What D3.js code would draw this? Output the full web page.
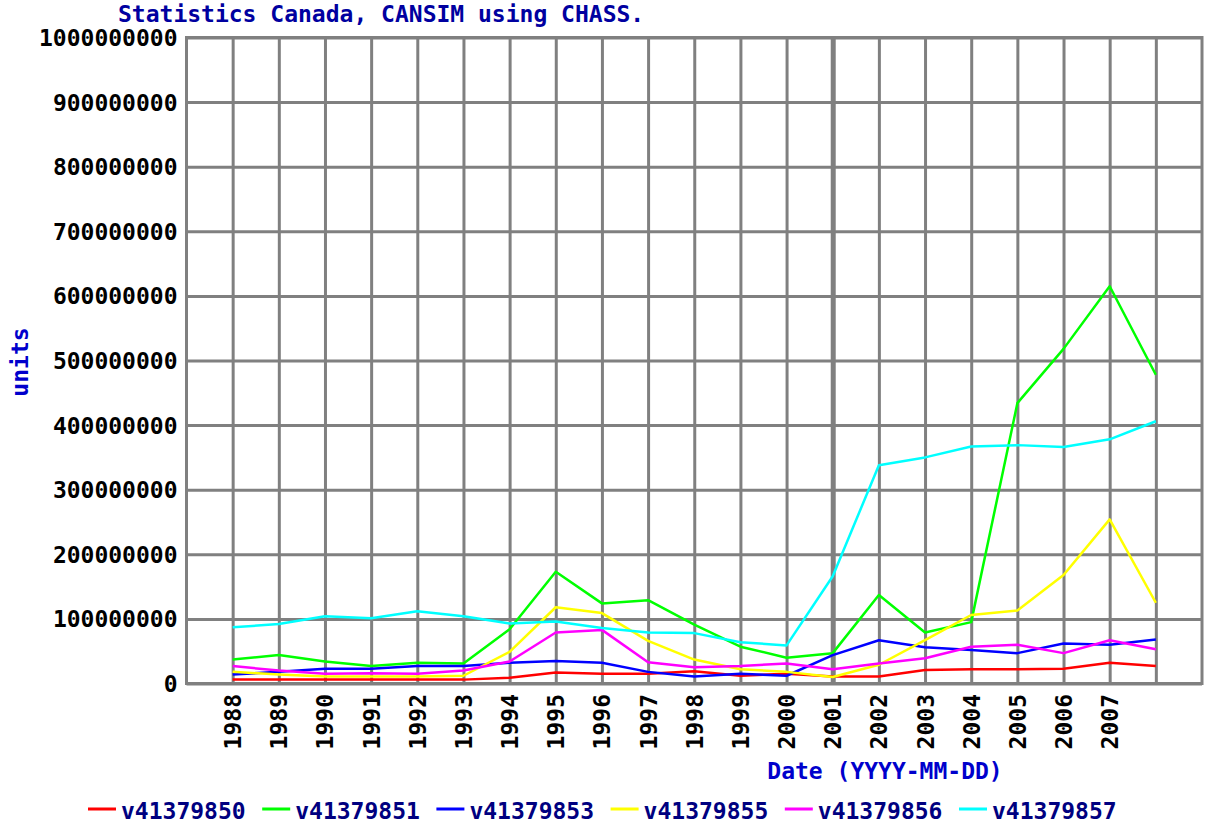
<!DOCTYPE html>
<html>
<head>
<meta charset="utf-8">
<script src="https://cdn.jsdelivr.net/npm/d3@7"></script>
<style>
  body { margin: 0; background: #fff; }
  text { font-family: "DejaVu Sans Mono", monospace; font-weight: bold; font-size: 23px; }
</style>
</head>
<body>
<div id="chart"></div>
<script>
// categories (one point per year)
const years = [1988, 1989, 1990, 1991, 1992, 1993, 1994, 1995, 1996, 1997, 1998,
  1999, 2000, 2001, 2002, 2003, 2004, 2005, 2006, 2007, 2008];
// only these get a label under the axis
const yearLabels = [1988, 1989, 1990, 1991, 1992, 1993, 1994, 1995, 1996, 1997,
  1998, 1999, 2000, 2001, 2002, 2003, 2004, 2005, 2006, 2007];
const yTicks = [0, 100e6, 200e6, 300e6, 400e6, 500e6, 600e6, 700e6, 800e6, 900e6, 1000e6];

const seriesNames = ["v41379850", "v41379851", "v41379853", "v41379855", "v41379856", "v41379857"];
const seriesColors = ["#ff0000", "#00ff00", "#0000ff", "#ffff00", "#ff00ff", "#00ffff"];

// values (units)
const v41379850 = [6e6, 6e6, 6e6, 6e6, 6e6, 6e6, 9e6, 17e6, 15e6, 15e6, 19e6,
  12e6, 15e6, 11e6, 11e6, 21e6, 22e6, 22e6, 23e6, 32e6, 27e6];
const v41379851 = [37e6, 44e6, 34e6, 27e6, 32e6, 31e6, 84e6, 173e6, 124e6, 129e6, 91e6,
  57e6, 40e6, 47e6, 137e6, 79e6, 95e6, 434e6, 518e6, 615e6, 478e6];
const v41379853 = [14e6, 18e6, 23e6, 23e6, 27e6, 27e6, 32e6, 35e6, 32e6, 18e6, 11e6,
  15e6, 12e6, 44e6, 67e6, 56e6, 52e6, 47e6, 62e6, 60e6, 68e6];
const v41379855 = [18e6, 14e6, 11e6, 11e6, 11e6, 12e6, 49e6, 118e6, 109e6, 66e6, 37e6,
  22e6, 18e6, 10e6, 29e6, 67e6, 106e6, 113e6, 168e6, 254e6, 125e6];
const v41379856 = [27e6, 20e6, 15e6, 16e6, 15e6, 20e6, 34e6, 79e6, 83e6, 33e6, 25e6,
  27e6, 31e6, 22e6, 31e6, 39e6, 57e6, 60e6, 47e6, 67e6, 53e6];
const v41379857 = [87e6, 92e6, 104e6, 101e6, 112e6, 104e6, 93e6, 96e6, 86e6, 79e6, 78e6,
  64e6, 59e6, 166e6, 338e6, 350e6, 367e6, 369e6, 366e6, 378e6, 406e6];

const seriesValues = [v41379850, v41379851, v41379853, v41379855, v41379856, v41379857];

class LineChart {
  constructor(_config) {
    this.config = {
      parentElement: _config.parentElement,
      containerWidth: 1205,
      containerHeight: 825,
      margin: { top: 37.5, right: 3, bottom: 141.5, left: 186.5 },
      gridColor: "#808080",
    };
    this.initVis();
    this.renderVis();
  }

  initVis() {
    let vis = this;
    vis.width = vis.config.containerWidth - vis.config.margin.left - vis.config.margin.right;
    vis.height = vis.config.containerHeight - vis.config.margin.top - vis.config.margin.bottom;

    vis.svg = d3.select(vis.config.parentElement)
      .append("svg")
      .attr("width", vis.config.containerWidth)
      .attr("height", vis.config.containerHeight);

    vis.g = vis.svg.append("g")
      .attr("transform", "translate(" + vis.config.margin.left + "," + vis.config.margin.top + ")");

    vis.x = d3.scaleLinear().domain([1987, 2009]).range([0, vis.width]);
    vis.y = d3.scaleLinear().domain([0, 1000e6]).range([vis.height, 0]);
  }

  renderVis() {
    let vis = this;

    // grid
    const xGrid = vis.g.append("g")
      .attr("transform", "translate(0," + vis.height + ")")
      .call(d3.axisBottom(vis.x).tickValues(years).tickSize(-vis.height).tickFormat(""));
    xGrid.select(".domain").remove();
    xGrid.selectAll("line")
      .attr("stroke", vis.config.gridColor)
      .attr("stroke-width", (d) => (d === 2001 ? 5 : 3));

    const yGrid = vis.g.append("g")
      .call(d3.axisLeft(vis.y).tickValues(yTicks).tickSize(-vis.width).tickFormat(""));
    yGrid.select(".domain").remove();
    yGrid.selectAll("line")
      .attr("stroke", vis.config.gridColor)
      .attr("stroke-width", 3);

    vis.g.append("rect")
      .attr("width", vis.width)
      .attr("height", vis.height)
      .attr("fill", "none")
      .attr("stroke", vis.config.gridColor)
      .attr("stroke-width", 3);

    // y labels
    const yAxis = vis.g.append("g")
      .call(d3.axisLeft(vis.y).tickValues(yTicks).tickSize(0).tickPadding(9).tickFormat(d3.format("d")));
    yAxis.select(".domain").remove();
    yAxis.selectAll("text")
      .attr("fill", "#000")
      .attr("dy", null)
      .attr("dominant-baseline", "central");

    // x labels, rotated
    const xAxis = vis.g.append("g")
      .attr("transform", "translate(0," + vis.height + ")")
      .call(d3.axisBottom(vis.x).tickValues(yearLabels).tickSize(0).tickFormat(d3.format("d")));
    xAxis.select(".domain").remove();
    xAxis.selectAll("text")
      .attr("fill", "#000")
      .attr("y", 0)
      .attr("dy", null)
      .attr("x", -10.5)
      .attr("transform", "rotate(-90)")
      .attr("text-anchor", "end")
      .attr("dominant-baseline", "central");

    // lines
    const line = d3.line()
      .x((d, i) => vis.x(years[i]))
      .y((d) => vis.y(d));

    vis.g.selectAll(".series")
      .data(seriesValues)
      .enter()
      .append("path")
      .attr("class", "series")
      .attr("d", line)
      .attr("fill", "none")
      .attr("stroke", (d, i) => seriesColors[i])
      .attr("stroke-width", 2.5)
      .attr("stroke-linejoin", "round");

    // titles
    vis.svg.append("text")
      .attr("x", 118)
      .attr("y", 22)
      .attr("fill", "#0000a0")
      .text("Statistics Canada, CANSIM using CHASS.");

    vis.svg.append("text")
      .attr("transform", "translate(20,362) rotate(-90)")
      .attr("text-anchor", "middle")
      .attr("dominant-baseline", "central")
      .attr("fill", "#0000cc")
      .text("units");

    vis.svg.append("text")
      .attr("x", 885)
      .attr("y", 779)
      .attr("text-anchor", "middle")
      .attr("fill", "#0000cc")
      .text("Date (YYYY-MM-DD)");

    // legend
    const legend = vis.svg.selectAll(".legend-item")
      .data(seriesNames)
      .enter()
      .append("g")
      .attr("class", "legend-item")
      .attr("transform", (d, i) => "translate(" + (88 + i * 174.2) + ",809)");

    legend.append("rect")
      .attr("width", 28)
      .attr("height", 3)
      .attr("y", -1.5)
      .attr("fill", (d, i) => seriesColors[i]);

    legend.append("text")
      .attr("x", 33)
      .attr("y", 10)
      .attr("fill", "#000080")
      .text((d) => d);
  }
}

new LineChart({ parentElement: "#chart" });
</script>
</body>
</html>
